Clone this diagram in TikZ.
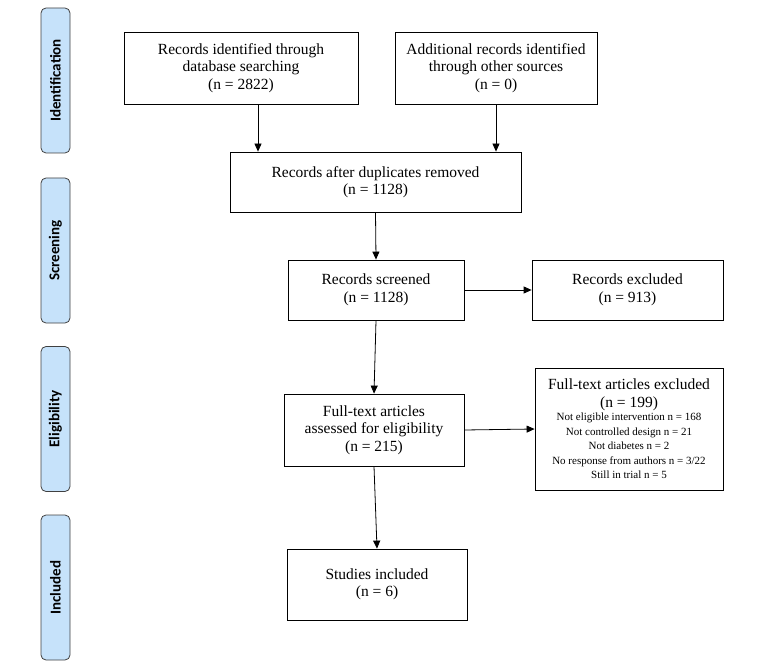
\documentclass[tikz,border=0pt]{standalone}
\usepackage{fontspec}
\setmainfont{Liberation Serif}
\newfontfamily\sidefont{Carlito}
\usetikzlibrary{arrows.meta,calc}

\tikzset{
  box/.style={draw=black,line width=0.8pt,fill=white,align=center,inner sep=2pt,
    font=\fontsize{15.5}{17.5}\selectfont},
  phase/.style={draw=black!75,line width=0.8pt,fill=phaseblue,rounded corners=5pt,
    minimum width=29pt,minimum height=145pt,inner sep=0pt},
  phasetxt/.style={rotate=90,font=\sidefont\bfseries\fontsize{15}{17}\selectfont},
  arr/.style={line width=0.8pt,-{Triangle[length=8pt,width=7pt]}}
}
\definecolor{phaseblue}{HTML}{C6E2FA}
\newcommand{\smalllist}{\fontsize{11}{12}\selectfont}

\begin{document}
\begin{tikzpicture}[x=1pt,y=-1pt]
        \useasboundingbox (0,0) rectangle (762,668);

        % phases on the left
        \node[phase] (ident) at (55.5,80.5) {};
        \node[phase] (screen) at (55.5,250.5) {};
        \node[phase] (elig) at (55.5,419) {};
        \node[phase] (incl) at (55.5,587.5) {};
        \node[phasetxt] (identtxt) at (ident) {Identification};
        \node[phasetxt] (screentxt) at (screen) {Screening};
        \node[phasetxt] (eligtxt) at (elig) {Eligibility};
        \node[phasetxt] (incltxt) at (incl) {Included};

        % boxes
        \node[box,minimum width=234pt,minimum height=72pt] (db) at (241,68)
          {Records identified through\\database searching\\(n = 2822)};
        \node[box,minimum width=202pt,minimum height=72pt] (other) at (496,68)
          {Additional records identified\\through other sources\\(n = 0)};
        \node[box,minimum width=291pt,minimum height=60pt] (dup) at (375.5,182)
          {Records after duplicates removed\\(n = 1128)};
        \node[box,minimum width=176pt,minimum height=60pt] (scr) at (376,290)
          {Records screened\\(n = 1128)};
        \node[box,minimum width=191pt,minimum height=60pt] (exc) at (627.5,290)
          {Records excluded\\(n = 913)};
        \node[box,minimum width=180pt,minimum height=72pt] (full) at (374,430)
          {Full-text articles\\assessed for eligibility\\(n = 215)};
        \node[box,minimum width=188pt,minimum height=122pt] (fexc) at (629,429)
          {Full-text articles excluded\\(n = 199)\\[-4pt]
           \smalllist Not eligible intervention n = 168\\[-3pt]
           \smalllist Not controlled design n = 21\\[-3pt]
           \smalllist Not diabetes n = 2\\[-3pt]
           \smalllist No response from authors n = 3/22\\[-3pt]
           \smalllist Still in trial n = 5};
        \node[box,minimum width=180pt,minimum height=71pt] (inc) at (377,584.5)
          {Studies included\\(n = 6)};

        % arrows
        \draw[arr] ([xshift=17pt]db.south) -- ([xshift=17pt]db.south |- dup.north);
        \draw[arr] (other.south) -- (other.south |- dup.north);
        \draw[arr] (dup.south) -- (scr.north);
        \draw[arr] (scr.east) -- (exc.west);
        \draw[arr] (scr.south) -- (full.north);
        \draw[arr] (full.east) -- (fexc.west);
        \draw[arr] (full.south) -- (inc.north);

      \end{tikzpicture}
\end{document}
